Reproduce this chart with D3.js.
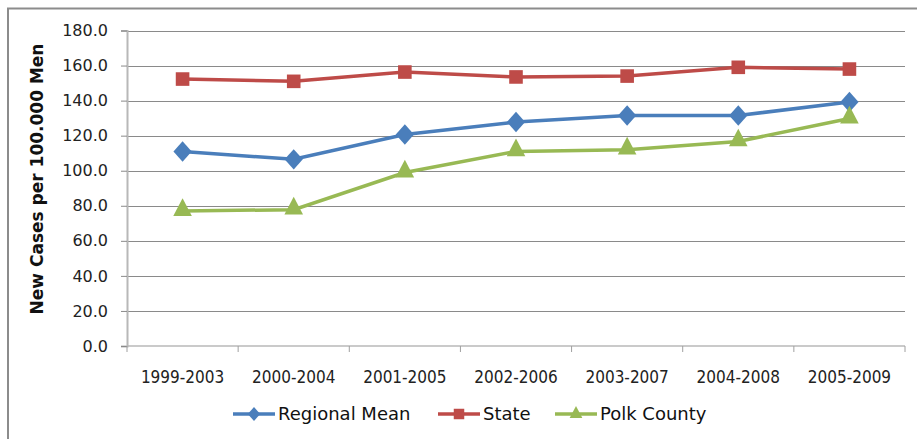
<!DOCTYPE html>
<html>
<head>
<meta charset="utf-8">
<script src="https://cdn.jsdelivr.net/npm/d3@7"></script>
<style>
  body { margin: 0; background: #fff; }
  svg { display: block; }
</style>
</head>
<body>
<svg id="chart" width="917" height="439"></svg>
<script>
var periods = ['1999-2003', '2000-2004', '2001-2005', '2002-2006', '2003-2007', '2004-2008', '2005-2009'];
var regionalMean = [111.0, 106.5, 120.7, 127.8, 131.5, 131.5, 139.2];
var state = [152.3, 151.0, 156.3, 153.5, 154.0, 159.0, 158.0];
var polkCounty = [77.0, 77.8, 99.0, 111.0, 112.0, 116.7, 129.8];
var yTicks = [0, 20, 40, 60, 80, 100, 120, 140, 160, 180];

var series = [
    {name: 'Regional Mean', values: regionalMean, color: '#4a7ebb', symbol: 'diamond'},
    {name: 'State', values: state, color: '#be4b48', symbol: 'square'},
    {name: 'Polk County', values: polkCounty, color: '#98b954', symbol: 'triangle'}
];

var svg = d3.select('#chart');
var plotLeft = 127, plotRight = 905, plotTop = 30.5, plotBottom = 346;

// outer frame (only left and top edges visible)
svg.append('path')
    .attr('d', 'M8,439V8.5H917')
    .attr('fill', 'none')
    .attr('stroke', '#8c8c8c')
    .attr('stroke-width', 2);

var x = d3.scaleBand().domain(periods).range([plotLeft, plotRight]);
var y = d3.scaleLinear().domain([0, 180]).range([plotBottom, plotTop]);

function cx(i) {
    return x(periods[i]) + x.bandwidth() / 2;
}

// grid lines
svg.append('g')
    .selectAll('line')
    .data(yTicks.slice(1))
    .enter().append('line')
    .attr('x1', plotLeft)
    .attr('x2', plotRight)
    .attr('y1', function(d) { return Math.round(y(d)) + 0.5; })
    .attr('y2', function(d) { return Math.round(y(d)) + 0.5; })
    .attr('stroke', '#8a8a8a')
    .attr('stroke-width', 1);

// y axis
var yAxis = svg.append('g')
    .attr('transform', 'translate(' + plotLeft + ',0)')
    .call(d3.axisLeft(y).tickValues(yTicks).tickSize(6).tickPadding(13)
        .tickFormat(d3.format('.1f')));
yAxis.select('.domain').attr('stroke', '#b8b8b8').attr('stroke-width', 2);
yAxis.selectAll('.tick line').attr('stroke', '#8a8a8a');
yAxis.selectAll('text')
    .attr('font-family', 'DejaVu Sans, sans-serif')
    .attr('font-size', 16)
    .attr('fill', '#222');

// x axis
var xAxis = svg.append('g')
    .attr('transform', 'translate(0,' + plotBottom + ')');
xAxis.append('line')
    .attr('x1', plotLeft).attr('x2', plotRight)
    .attr('stroke', '#b8b8b8').attr('stroke-width', 1.5);
xAxis.selectAll('.sep')
    .data(periods.concat(['end']))
    .enter().append('line')
    .attr('class', 'sep')
    .attr('x1', function(d, i) { return plotLeft + i * x.bandwidth(); })
    .attr('x2', function(d, i) { return plotLeft + i * x.bandwidth(); })
    .attr('y1', 0).attr('y2', 6)
    .attr('stroke', '#a0a0a0');
xAxis.selectAll('.lbl')
    .data(periods)
    .enter().append('text')
    .attr('class', 'lbl')
    .attr('x', function(d, i) { return cx(i); })
    .attr('y', 37)
    .attr('text-anchor', 'middle')
    .attr('font-family', 'DejaVu Sans Condensed, sans-serif')
    .attr('font-size', 17)
    .attr('fill', '#222')
    .text(function(d) { return d; });

// y axis title
svg.append('text')
    .attr('transform', 'translate(43,179) rotate(-90)')
    .attr('text-anchor', 'middle')
    .attr('font-family', 'DejaVu Sans, sans-serif')
    .attr('font-weight', 'bold')
    .attr('font-size', 17)
    .attr('fill', '#111')
    .text('New Cases per 100.000 Men');

function marker(sel, s, size) {
    var sym = s.symbol === 'diamond' ? d3.symbolDiamond : (s.symbol === 'square' ? d3.symbolSquare : d3.symbolTriangle);
    sel.attr('d', d3.symbol().type(sym).size(size))
        .attr('fill', s.color);
}

var sizes = {diamond: 120, square: 185, triangle: 150};
var stretch = {diamond: ' scale(1.55,1)', square: '', triangle: ' scale(1,1.1)'};

var line = d3.line()
    .x(function(d, i) { return cx(i); })
    .y(function(d) { return y(d); });

series.forEach(function(s) {
    var g = svg.append('g');
    g.append('path')
        .datum(s.values)
        .attr('d', line)
        .attr('fill', 'none')
        .attr('stroke', s.color)
        .attr('stroke-width', 3.5);
    g.selectAll('path.pt')
        .data(s.values)
        .enter().append('path')
        .attr('class', 'pt')
        .attr('transform', function(d, i) {
            var dy = s.symbol === 'triangle' ? -1 : 0;
            return 'translate(' + cx(i) + ',' + (y(d) + dy) + ')' + stretch[s.symbol];
        })
        .call(marker, s, sizes[s.symbol]);
});

// legend
var legendX = [233, 438, 555];
var legend = svg.append('g')
    .selectAll('g')
    .data(series)
    .enter().append('g')
    .attr('transform', function(d, i) { return 'translate(' + legendX[i] + ',414)'; });
legend.append('line')
    .attr('x1', 0).attr('x2', 42)
    .attr('stroke', function(d) { return d.color; })
    .attr('stroke-width', 3.5);
legend.append('path')
    .attr('transform', function(d) { return 'translate(21,0)' + stretch[d.symbol]; })
    .each(function(d) {
        var size = d.symbol === 'square' ? 110 : (d.symbol === 'diamond' ? 55 : 70);
        d3.select(this).call(marker, d, size);
    });
legend.append('text')
    .attr('x', 45)
    .attr('y', 0)
    .attr('dy', '0.35em')
    .attr('font-family', 'DejaVu Sans, sans-serif')
    .attr('font-size', 18)
    .attr('fill', '#111')
    .text(function(d) { return d.name; });
</script>
</body>
</html>
